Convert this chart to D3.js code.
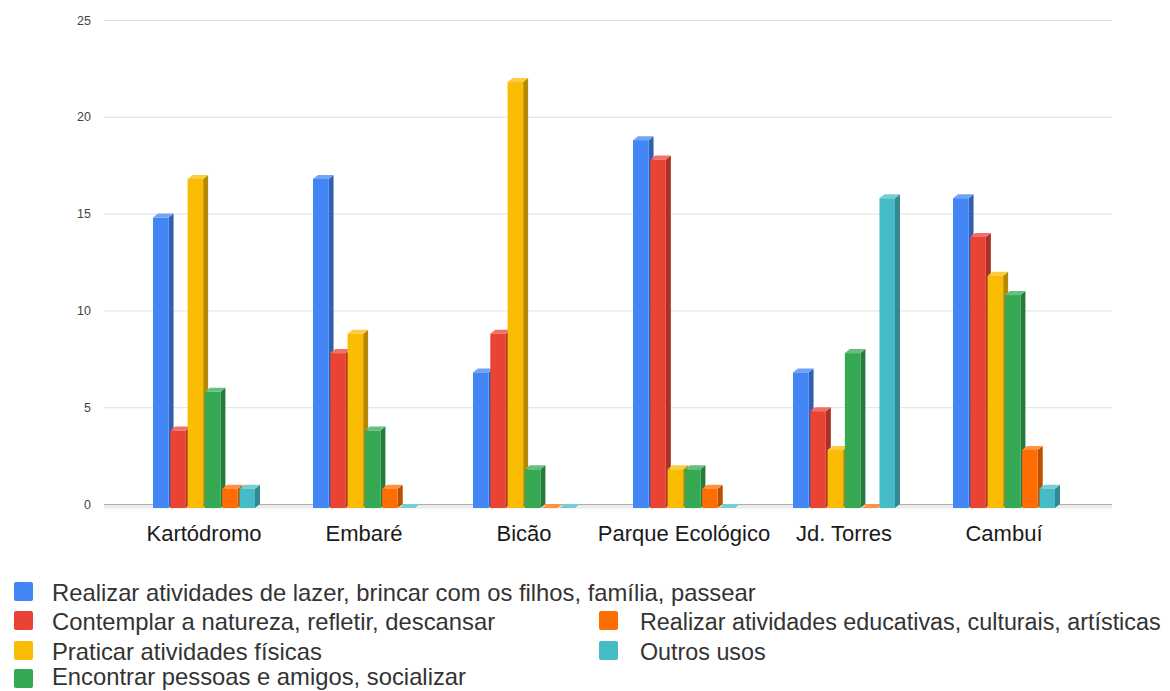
<!DOCTYPE html>
<html><head><meta charset="utf-8">
<script src="https://cdn.jsdelivr.net/npm/d3@7/dist/d3.min.js"></script>
<style>body{margin:0;background:#fff}svg{display:block}</style>
</head><body>
<svg id="c" width="1170" height="691"></svg>
<script>
const categories = ["Kartódromo","Embaré","Bicão","Parque Ecológico","Jd. Torres","Cambuí"];
const seriesNames = [
  "Realizar atividades de lazer, brincar com os filhos, família, passear",
  "Contemplar a natureza, refletir, descansar",
  "Praticar atividades físicas",
  "Encontrar pessoas e amigos, socializar",
  "Realizar atividades educativas, culturais, artísticas",
  "Outros usos"
];
const lazer     = [15,17,7,19,7,16];
const natureza  = [4,8,9,18,5,14];
const fisicas   = [17,9,22,2,3,12];
const encontrar = [6,4,2,2,8,11];
const educativas= [1,1,0,1,0,3];
const outros    = [1,0,0,0,16,1];
const seriesValues = [lazer,natureza,fisicas,encontrar,educativas,outros];
const yTicks = [0,5,10,15,20,25];
const colors = ["#4285F4","#EA4335","#FBBC04","#34A853","#FF6D01","#46BDC6"];

const svg = d3.select("#c");
const font = "'Liberation Sans', Arial, sans-serif";
const x0 = d3.scaleBand().domain(categories).range([123,1083]).paddingInner(0).paddingOuter(0);
const y = d3.scaleLinear().domain([0,25]).range([504,20]);
const x1 = d3.scaleBand().domain(d3.range(6)).range([0,102]).paddingInner(0.1).paddingOuter(0);

// gridlines
const gAxis = svg.append("g").attr("transform","translate(104,0)")
  .call(d3.axisLeft(y).tickValues(yTicks).tickSize(-1008).tickFormat(d3.format("d")).tickPadding(13));
gAxis.select(".domain").remove();
gAxis.selectAll(".tick line").attr("stroke",d=>d===0?"#777":"#e0e0e0").attr("stroke-width",1);
gAxis.selectAll(".tick text").attr("fill","#444").style("font-family",font).style("font-size","12.5px");

// floor
svg.append("rect").attr("x",104).attr("y",504.5).attr("width",1008).attr("height",4).attr("fill","#ececec");

const d = 5, dy = 4;
const base = y(0)+dy;
function shade(c,k){return d3.color(c).darker(k).formatHex();}
function light(c){return d3.interpolateRgb(c,"#fff")(0.25);}

categories.forEach((cat,ci)=>{
  const g = svg.append("g").attr("transform",`translate(${x0(cat)+x0.bandwidth()/2-50},0)`);
  seriesValues.forEach((vals,si)=>{
    const v = vals[ci];
    const bx = x1(si), w = x1.bandwidth(), ty = y(v)+dy;
    const c = colors[si];
    g.append("path").attr("d",`M${bx+w},${ty}L${bx+w+d},${ty-dy}L${bx+w+d},${base-dy}L${bx+w},${base}Z`).attr("fill",shade(c,0.9));
    g.append("path").attr("d",`M${bx},${ty}L${bx+d},${ty-dy}L${bx+w+d},${ty-dy}L${bx+w},${ty}Z`).attr("fill",light(c));
    g.append("rect").attr("x",bx).attr("y",ty).attr("width",w).attr("height",Math.max(0,base-ty)).attr("fill",c);
  });
});

// x labels
svg.append("g").selectAll("text").data(categories).join("text")
  .attr("x",d=>x0(d)+x0.bandwidth()/2+1).attr("y",541).attr("text-anchor","middle")
  .style("font-family",font).style("font-size","22px").attr("fill","#1a1a1a").text(d=>d);

// legend
const legendPos = [
  {x:14,tx:52,y:592,b:601,f:23.8},{x:14,tx:52,y:621,b:630,f:23.8},{x:14,tx:52,y:651,b:660,f:23.8},{x:14,tx:52,y:679,b:685,f:23.8},
  {x:599,tx:640,y:621,b:630,f:23.3},{x:599,tx:640,y:651,b:660,f:23.3}
];
const lg = svg.append("g");
seriesNames.forEach((n,i)=>{
  const p = legendPos[i];
  lg.append("rect").attr("x",p.x).attr("y",p.y-10).attr("width",19).attr("height",19).attr("rx",2).attr("fill",colors[i]);
  lg.append("text").attr("x",p.tx).attr("y",p.b).style("font-family",font).style("font-size",p.f+"px").attr("fill","#333").text(n);
});
</script>
</body></html>
